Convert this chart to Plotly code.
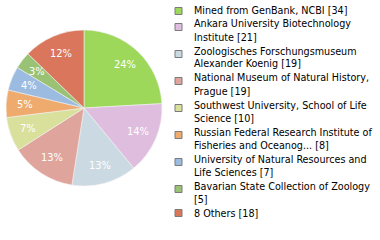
import math
import plotly.graph_objects as go

labels = [
    "Mined from GenBank, NCBI [34]",
    "Ankara University Biotechnology<br>Institute [21]",
    "Zoologisches Forschungsmuseum<br>Alexander Koenig [19]",
    "National Museum of Natural History,<br>Prague [19]",
    "Southwest University, School of Life<br>Science [10]",
    "Russian Federal Research Institute of<br>Fisheries and Oceanog... [8]",
    "University of Natural Resources and<br>Life Sciences [7]",
    "Bavarian State Collection of Zoology<br>[5]",
    "8 Others [18]",
]
values = [34, 21, 19, 19, 10, 8, 7, 5, 18]
colors = ["#9ed85a", "#dfbddf", "#cbd9e3", "#dfa49b", "#d9e09c",
          "#eeab6d", "#9cbbe0", "#99c274", "#d9765c"]

W, H = 380, 240
FONT = "DejaVu Sans Condensed, Liberation Sans, sans-serif"

# pie geometry in pixels
cx, cy, R = 84, 108, 78

total = sum(values)
pct_text = [f"{int(v * 100 / total)}%" for v in values]

fig = go.Figure(go.Pie(
    labels=[l.replace("<br>", " ") for l in labels],
    values=values,
    textinfo="none",
    marker=dict(colors=colors, line=dict(color="#f2f2f2", width=0.6)),
    sort=False,
    direction="clockwise",
    rotation=0,
    domain=dict(x=[(cx - R) / W, (cx + R) / W],
                y=[(H - cy - R) / H, (H - cy + R) / H]),
    hoverinfo="none",
    showlegend=False,
))

annotations = []
shapes = []

# percentage labels at slice mid-angles
cum = 0
for v, t in zip(values, pct_text):
    theta = 2 * math.pi * (cum + v / 2) / total
    cum += v
    px = cx + 0.76 * R * math.sin(theta)
    py = cy - 0.76 * R * math.cos(theta)
    annotations.append(dict(
        x=px / W, y=1 - py / H, xref="paper", yref="paper",
        text=t, showarrow=False, xanchor="center", yanchor="middle",
        font=dict(family=FONT, size=11, color="white"),
    ))

# legend
y_line = 11
for lab, col in zip(labels, colors):
    lines = lab.split("<br>")
    n = len(lines)
    sq_c = y_line + 3 * (n - 1)
    shapes.append(dict(
        type="rect", xref="paper", yref="paper",
        x0=175 / W, x1=182 / W,
        y0=1 - (sq_c - 3.5) / H, y1=1 - (sq_c + 3.5) / H,
        fillcolor=col, line=dict(color="#7a7a7a", width=1),
    ))
    for j, ln in enumerate(lines):
        annotations.append(dict(
            x=192 / W, y=1 - (y_line + 13 * j) / H,
            xref="paper", yref="paper",
            text=ln, showarrow=False, xanchor="left", yanchor="middle",
            font=dict(family=FONT, size=10.7, color="black"),
        ))
    y_line += 14 * n - 1

fig.update_layout(
    width=W, height=H,
    margin=dict(l=0, r=0, t=0, b=0),
    paper_bgcolor="white",
    plot_bgcolor="white",
    showlegend=False,
    annotations=annotations,
    shapes=shapes,
)

fig.write_html(
    "out.html",
    config={"displayModeBar": False},
    post_script="document.body.style.margin='0px';document.body.style.padding='0px';",
)
